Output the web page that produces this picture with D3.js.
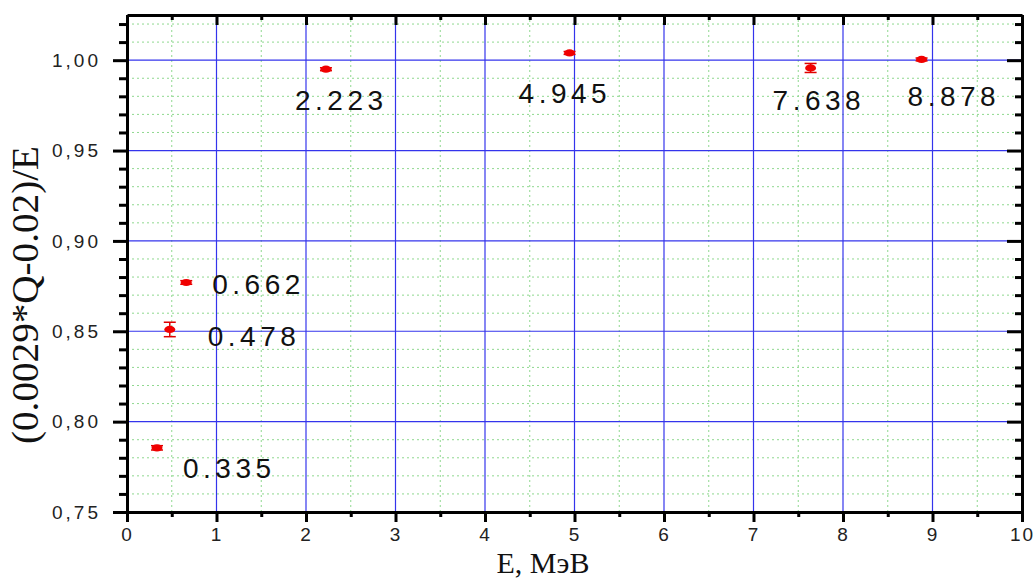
<!DOCTYPE html>
<meta charset="utf-8">
<title>(0.0029*Q-0.02)/E vs E</title>
<script src="https://d3js.org/d3.v7.min.js"></script>
<style>
body { margin: 0; background: #fff; }
text { font-family: "Liberation Sans", Arial, sans-serif; }
</style>
<div id="chart"></div>
<script>
// measured points: energy (MeV), ratio, error
const energies = [0.335, 0.478, 0.662, 2.223, 4.945, 7.638, 8.878];
const ratios   = [0.7855, 0.851, 0.877, 0.995, 1.004, 0.9957, 1.0004];
const errors   = [0.0012, 0.004, 0.001, 0.0008, 0.0008, 0.0025, 0.0008];
const pointLabels = ["0.335", "0.478", "0.662", "2.223", "4.945", "7.638", "8.878"];
const xTicks = [0, 1, 2, 3, 4, 5, 6, 7, 8, 9, 10];
const yTicks = [0.75, 0.80, 0.85, 0.90, 0.95, 1.00];

// label placement relative to each point (px)
const labelOffsets = [[26, 30], [38, 17], [26, 12], [-31, 41], [-51, 50], [-38, 42], [-14, 47]];

const W = 1035, H = 580;
const margin = {top: 15, right: 13, bottom: 68, left: 127};
const width = W - margin.left - margin.right,
      height = H - margin.top - margin.bottom;

const svg = d3.select("#chart").append("svg")
    .attr("width", W).attr("height", H);
const g = svg.append("g")
    .attr("transform", `translate(${margin.left},${margin.top})`);

const x = d3.scaleLinear().domain([0, 10]).range([0, width]);
const y = d3.scaleLinear().domain([0.75, 1.025]).range([height, 0]);

// minor grid (green dotted)
const xMinor = d3.range(0.5, 10, 1);
const yMinor = d3.range(0.76, 1.025, 0.01).filter(v => Math.abs(Math.round(v * 100) % 5) !== 0);
g.append("g").selectAll("line").data(xMinor).join("line")
    .attr("x1", d => x(d)).attr("x2", d => x(d))
    .attr("y1", 0).attr("y2", height)
    .attr("stroke", "#8fd88f").attr("stroke-width", 1).attr("stroke-dasharray", "2,3");
g.append("g").selectAll("line").data(yMinor).join("line")
    .attr("x1", 0).attr("x2", width)
    .attr("y1", d => y(d)).attr("y2", d => y(d))
    .attr("stroke", "#8fd88f").attr("stroke-width", 1).attr("stroke-dasharray", "2,3");

// major grid (blue)
g.append("g").selectAll("line").data(xTicks.slice(1, -1)).join("line")
    .attr("x1", d => x(d)).attr("x2", d => x(d))
    .attr("y1", 0).attr("y2", height)
    .attr("stroke", "#3434ec").attr("stroke-width", 1.2);
g.append("g").selectAll("line").data(yTicks.slice(1)).join("line")
    .attr("x1", 0).attr("x2", width)
    .attr("y1", d => y(d)).attr("y2", d => y(d))
    .attr("stroke", "#3434ec").attr("stroke-width", 1.2);

// axes
const tickFmt = d => d3.format(".2f")(d).replace(".", ",");
const styleAxis = sel => {
  sel.select(".domain").attr("stroke", "#000").attr("stroke-width", 3);
  sel.selectAll(".tick line").attr("stroke", "#000").attr("stroke-width", 3);
};

const xAxis = g.append("g").attr("transform", `translate(0,${height})`)
    .call(d3.axisBottom(x).tickValues(xTicks).tickSize(10).tickPadding(6).tickSizeOuter(0));
styleAxis(xAxis);
xAxis.selectAll(".tick text").attr("font-size", 19).attr("fill", "#222")
    .attr("letter-spacing", 2);
g.append("g").attr("transform", `translate(0,${height})`)
    .call(d3.axisBottom(x).tickValues(xMinor).tickSize(5).tickFormat(""))
    .call(s => { s.select(".domain").remove(); styleAxis(s); });

const yAxis = g.append("g")
    .call(d3.axisLeft(y).tickValues(yTicks).tickSize(14).tickPadding(12).tickFormat(tickFmt).tickSizeOuter(0));
styleAxis(yAxis);
yAxis.selectAll(".tick text").attr("font-size", 19).attr("fill", "#222").attr("letter-spacing", 3);
g.append("g")
    .call(d3.axisLeft(y).tickValues(yMinor).tickSize(8).tickFormat(""))
    .call(s => { s.select(".domain").remove(); styleAxis(s); });

// top & right (inner ticks)
const xTop = g.append("g")
    .call(d3.axisTop(x).tickValues(xTicks).tickSize(-10).tickFormat("").tickSizeOuter(0));
styleAxis(xTop);
g.append("g")
    .call(d3.axisTop(x).tickValues(xMinor).tickSize(-5).tickFormat(""))
    .call(s => { s.select(".domain").remove(); styleAxis(s); });
const yRight = g.append("g").attr("transform", `translate(${width},0)`)
    .call(d3.axisRight(y).tickValues(yTicks).tickSize(-15).tickFormat("").tickSizeOuter(0));
styleAxis(yRight);
g.append("g").attr("transform", `translate(${width},0)`)
    .call(d3.axisRight(y).tickValues(yMinor).tickSize(-7).tickFormat(""))
    .call(s => { s.select(".domain").remove(); styleAxis(s); });

// data points with error bars
const pts = energies.map((e, i) => ({e, r: ratios[i], err: errors[i], label: pointLabels[i], off: labelOffsets[i]}));
const pg = g.append("g").selectAll("g").data(pts).join("g");
pg.append("line")
    .attr("x1", d => x(d.e)).attr("x2", d => x(d.e))
    .attr("y1", d => y(d.r - d.err)).attr("y2", d => y(d.r + d.err))
    .attr("stroke", "#e00000").attr("stroke-width", 1.5);
pg.selectAll("line.cap").data(d => [[d.e, d.r - d.err], [d.e, d.r + d.err]]).join("line")
    .attr("class", "cap")
    .attr("x1", d => x(d[0]) - 6).attr("x2", d => x(d[0]) + 6)
    .attr("y1", d => y(d[1])).attr("y2", d => y(d[1]))
    .attr("stroke", "#e00000").attr("stroke-width", 1.5);
pg.append("ellipse")
    .attr("cx", d => x(d.e)).attr("cy", d => y(d.r))
    .attr("rx", 5.5).attr("ry", 3.6)
    .attr("fill", "#f00000");

// point labels
pg.append("text")
    .attr("x", d => x(d.e) + d.off[0])
    .attr("y", d => y(d.r) + d.off[1])
    .attr("font-size", 28).attr("letter-spacing", 4.5).attr("fill", "#111")
    .text(d => d.label);

// axis titles
svg.append("text")
    .attr("x", 543).attr("y", 573)
    .attr("text-anchor", "middle")
    .style("font-family", "'Liberation Serif', 'Times New Roman', serif")
    .attr("font-size", 30).attr("fill", "#111")
    .text("E, МэВ");

svg.append("text")
    .attr("transform", "translate(38,295) rotate(-90)")
    .attr("text-anchor", "middle")
    .style("font-family", "'Liberation Serif', 'Times New Roman', serif")
    .attr("font-size", 37).attr("fill", "#111")
    .attr("textLength", 298).attr("lengthAdjust", "spacingAndGlyphs")
    .text("(0.0029*Q-0.02)/E");
</script>
